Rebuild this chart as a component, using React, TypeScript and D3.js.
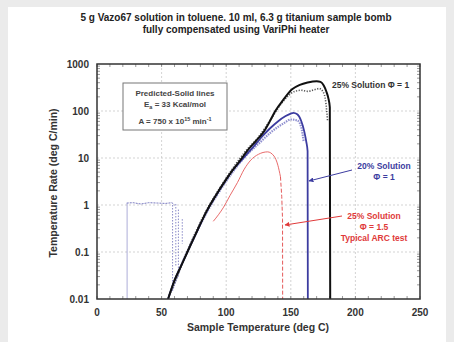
import React from "react";
import * as d3 from "d3";

// [temperature degC, rate degC/min]
const black25Pred: [number, number][] = [
  [55, 0.01], [60, 0.025], [65, 0.05], [70, 0.1], [78, 0.3], [85, 0.75], [92, 1.6],
  [100, 3.5], [105, 5.5], [111, 9], [117, 15], [123, 23], [129, 36], [134, 62],
  [138, 100], [144, 170], [151, 290], [157, 360], [163, 405], [167, 425], [170, 432],
  [173, 415], [175.5, 350], [177.5, 260], [179, 190], [180.2, 120], [180.5, 0.01],
];
const black25Exp: [number, number][] = [
  [56, 0.012], [62, 0.03], [68, 0.08], [75, 0.22], [85, 0.8], [95, 2.3], [105, 6],
  [115, 14], [125, 28], [135, 70], [142, 135], [148, 210], [153, 262], [158, 276],
  [163, 262], [168, 282], [172, 300], [175, 255], [177, 160], [178.5, 60],
];
const blue20Pred: [number, number][] = [
  [55, 0.01], [60, 0.025], [65, 0.05], [70, 0.1], [78, 0.3], [85, 0.75], [92, 1.6],
  [100, 3.5], [105, 5.5], [111, 8.5], [117, 13], [123, 20], [128, 29], [134, 43],
  [140, 60], [146, 78], [150, 88], [152, 91], [155, 85], [158, 62], [160.5, 36],
  [162, 22], [163, 14], [163.2, 0.01],
];
const blue20Exp: [number, number][] = [
  [58, 0.015], [65, 0.05], [75, 0.2], [85, 0.7], [95, 2], [105, 5], [115, 11],
  [125, 20], [135, 36], [145, 56], [150, 66], [155, 63], [158, 46], [160, 22],
];
const bluePlateau: [number, number][] = [
  [23, 1.1], [28, 1.12], [34, 1.05], [40, 1.12], [47, 1.1], [53, 1.08], [58, 1.12], [60, 1.0],
];
// [temperature, top rate, bottom rate]
const blueDrops: [number, number, number][] = [
  [23.3, 1.1, 0.01], [58.5, 1.0, 0.02], [61, 1.05, 0.05], [63, 0.8, 0.03], [66, 0.5, 0.15],
];
const red25Exp: [number, number][] = [
  [90, 0.45], [94, 0.62], [98, 0.9], [103, 1.6], [108.7, 3], [114, 5.8], [119, 9],
  [125, 12], [132, 13.5], [137, 11], [140, 7], [142, 4],
];
const red25Tail: [number, number][] = [
  [142, 4], [143, 1.5], [143.6, 0.5], [143.7, 0.01],
];

const xTicks = [0, 50, 100, 150, 200, 250];
const yTicks = [0.01, 0.1, 1, 10, 100, 1000];
const yTickLabels = ["0.01", "0.1", "1", "10", "100", "1000"];

const W = 454;
const H = 342;
const m = { left: 97, right: 420, top: 64, bottom: 299 };
const font = "'Liberation Sans', Arial, sans-serif";

export default function App() {
  const x = d3.scaleLinear().domain([0, 250]).range([m.left, m.right]);
  const y = d3.scaleLog().domain([0.01, 1000]).range([m.bottom, m.top]);
  const line = d3
    .line<[number, number]>()
    .x((d) => x(d[0]))
    .y((d) => y(d[1]))
    .curve(d3.curveMonotoneX);
  const straight = d3
    .line<[number, number]>()
    .x((d) => x(d[0]))
    .y((d) => y(d[1]));

  const xMinor = d3.range(0, 251, 10);
  const yMinor: number[] = [];
  [0.01, 0.1, 1, 10, 100].forEach((dec) => {
    for (let k = 2; k < 10; k++) yMinor.push(dec * k);
  });

  return (
    <svg width={W} height={H} style={{ position: "absolute", left: 0, top: 0 }}>
      <rect x={0} y={0} width={W} height={H} fill="#ebebeb" />
      <rect x={8} y={7} width={438} height={335} fill="#ffffff" />
      <defs>
        <marker id="arrB" viewBox="0 0 10 10" refX="9" refY="5" markerWidth="5" markerHeight="5" orient="auto">
          <path d="M0,0 L10,5 L0,10 z" fill="#3c3ca0" />
        </marker>
        <marker id="arrR" viewBox="0 0 10 10" refX="9" refY="5" markerWidth="5" markerHeight="5" orient="auto">
          <path d="M0,0 L10,5 L0,10 z" fill="#e03a3a" />
        </marker>
        <clipPath id="plot">
          <rect x={m.left} y={m.top} width={m.right - m.left} height={m.bottom - m.top} />
        </clipPath>
      </defs>

      {/* title */}
      <text x={236} y={21} textAnchor="middle" fontFamily={font} fontWeight="bold" fontSize={10} fill="#222">
        5 g Vazo67 solution in  toluene. 10 ml, 6.3 g  titanium sample bomb
      </text>
      <text x={236} y={33} textAnchor="middle" fontFamily={font} fontWeight="bold" fontSize={10} fill="#222">
        fully compensated using VariPhi heater
      </text>

      {/* grid */}
      {xTicks.slice(1, -1).map((t) => (
        <line key={"gx" + t} x1={x(t)} x2={x(t)} y1={m.top} y2={m.bottom} stroke="#c8c8c8" strokeWidth={0.8} strokeDasharray="2 2" />
      ))}
      {yTicks.slice(1, -1).map((t) => (
        <line key={"gy" + t} x1={m.left} x2={m.right} y1={y(t)} y2={y(t)} stroke="#c8c8c8" strokeWidth={0.8} strokeDasharray="2 2" />
      ))}

      {/* minor ticks */}
      {xMinor.map((t) => (
        <g key={"mx" + t} stroke="#555" strokeWidth={0.6}>
          <line x1={x(t)} x2={x(t)} y1={m.bottom} y2={m.bottom - 3} />
          <line x1={x(t)} x2={x(t)} y1={m.top} y2={m.top + 3} />
        </g>
      ))}
      {yMinor.map((t) => (
        <g key={"my" + t} stroke="#555" strokeWidth={0.6}>
          <line x1={m.left} x2={m.left + 3} y1={y(t)} y2={y(t)} />
          <line x1={m.right} x2={m.right - 3} y1={y(t)} y2={y(t)} />
        </g>
      ))}

      <g clipPath="url(#plot)" fill="none">
        {/* experimental plateau and drops */}
        <path d={straight(bluePlateau) ?? ""} stroke="#7a7ac0" strokeWidth={1} strokeDasharray="2 1" />
        {blueDrops.map((d, i) => (
          <line key={"bd" + i} x1={x(d[0])} x2={x(d[0])} y1={y(d[1])} y2={y(d[2])}
            stroke="#8a8ac8" strokeWidth={i === 0 ? 0.7 : 1} strokeDasharray={i === 0 ? undefined : "1.5 1.5"} />
        ))}
        <path d={line(red25Exp) ?? ""} stroke="#e55a5a" strokeWidth={0.9} />
        <path d={straight(red25Tail) ?? ""} stroke="#e55a5a" strokeWidth={1} strokeDasharray="4 2" />
        <path d={line(blue20Exp) ?? ""} stroke="#9090d0" strokeWidth={2.2} strokeDasharray="1.5 1" />
        <path d={line(blue20Pred) ?? ""} stroke="#3c3ca0" strokeWidth={1.8} />
        <path d={line(black25Exp) ?? ""} stroke="#555" strokeWidth={1.6} strokeDasharray="1.2 1.5" />
        <path d={line(black25Pred) ?? ""} stroke="#111" strokeWidth={2} />
      </g>

      {/* frame */}
      <rect x={m.left} y={m.top} width={m.right - m.left} height={m.bottom - m.top} fill="none" stroke="#333" strokeWidth={1.5} />

      {/* tick labels */}
      {xTicks.map((t) => (
        <text key={"xl" + t} x={x(t)} y={316} textAnchor="middle" fontFamily={font} fontWeight="bold" fontSize={10} fill="#333">
          {t}
        </text>
      ))}
      {yTicks.map((t, i) => (
        <text key={"yl" + t} x={89} y={y(t) + 3.5} textAnchor="end" fontFamily={font} fontWeight="bold" fontSize={10} fill="#333">
          {yTickLabels[i]}
        </text>
      ))}

      {/* axis titles */}
      <text x={258} y={331} textAnchor="middle" fontFamily={font} fontWeight="bold" fontSize={10.5} fill="#333">
        Sample Temperature (deg C)
      </text>
      <text transform={`translate(57,183) rotate(-90)`} textAnchor="middle" fontFamily={font} fontWeight="bold" fontSize={10.5} fill="#333">
        Temperature Rate (deg C/min)
      </text>

      {/* info box */}
      <rect x={123} y={83} width={104} height={47} fill="#fff" stroke="#777" strokeWidth={1} />
      <g fontFamily={font} fontWeight="bold" fontSize={8} fill="#444" textAnchor="middle">
        <text x={175} y={96}>Predicted-Solid lines</text>
        <text x={175} y={107}>
          E<tspan fontSize={5.5} dy={2}>a</tspan><tspan dy={-2}> = 33 Kcal/mol</tspan>
        </text>
        <text x={175} y={124}>
          A = 750 x 10<tspan fontSize={5.5} dy={-3}>15</tspan><tspan dy={3}> min</tspan><tspan fontSize={5.5} dy={-3}>-1</tspan>
        </text>
      </g>

      {/* annotations */}
      <text x={332} y={88} fontFamily={font} fontWeight="bold" fontSize={8.5} fill="#333">
        25% Solution Φ = 1
      </text>
      <g fontFamily={font} fontWeight="bold" fontSize={8.5} fill="#3c3ca0" textAnchor="middle">
        <text x={384} y={169}>20% Solution</text>
        <text x={384} y={180}>Φ = 1</text>
      </g>
      <line x1={352} y1={170} x2={309} y2={181} stroke="#3c3ca0" strokeWidth={1} markerEnd="url(#arrB)" />
      <g fontFamily={font} fontWeight="bold" fontSize={8.5} fill="#e03a3a" textAnchor="middle">
        <text x={374} y={219}>25% Solution</text>
        <text x={374} y={230}>Φ = 1.5</text>
        <text x={374} y={241}>Typical ARC test</text>
      </g>
      <line x1={342} y1={216} x2={285} y2={225} stroke="#e03a3a" strokeWidth={1} markerEnd="url(#arrR)" />
    </svg>
  );
}
